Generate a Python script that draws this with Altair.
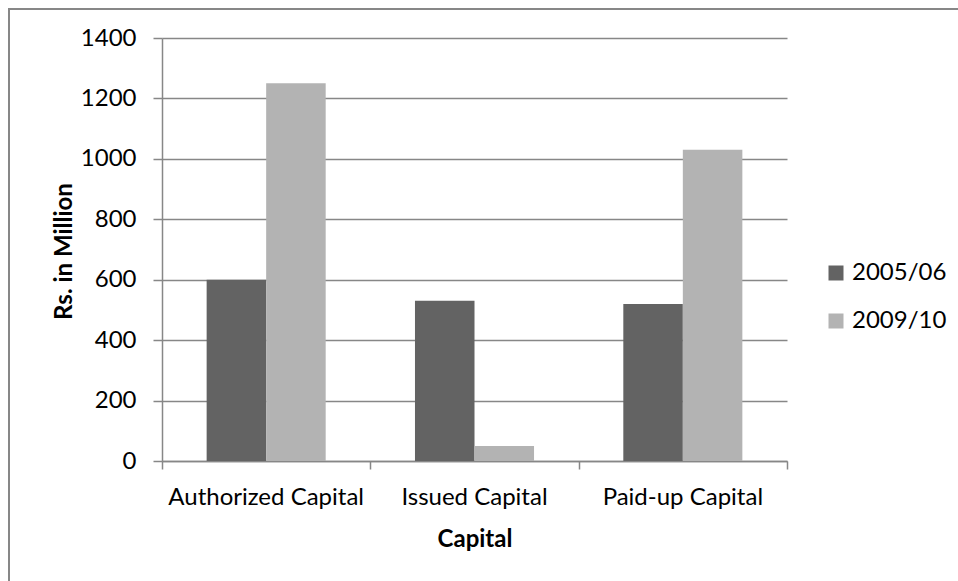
import altair as alt
import pandas as pd

# Share capital by type, Rs. in Million
categories = ["Authorized Capital", "Issued Capital", "Paid-up Capital"]
years = ["2005/06", "2009/10"]
values_2005 = [600, 530, 520]
values_2010 = [1250, 50, 1030]
y_ticks = [0, 200, 400, 600, 800, 1000, 1200, 1400]

rows = []
for cat, a, b in zip(categories, values_2005, values_2010):
    rows.append({"Category": cat, "Year": years[0], "Value": a})
    rows.append({"Category": cat, "Year": years[1], "Value": b})
df = pd.DataFrame(rows)

FONT = "Lato"
GRAY = "#878787"
W, H = 625, 423

bars = alt.Chart(df).mark_bar().encode(
    x=alt.X(
        "Category:N",
        sort=categories,
        scale=alt.Scale(paddingInner=0, paddingOuter=0),
        axis=alt.Axis(
            orient="bottom",
            title="Capital",
            ticks=False,
            domain=True,
            domainColor=GRAY,
            domainWidth=1.5,
            labelAngle=0,
            labelPadding=24,
            labelFontSize=24,
            labelColor="black",
            labelLimit=0,
            titleFontSize=24,
            titleFontWeight="bold",
            titleColor="black",
            titleY=66,
            grid=False,
        ),
    ),
    xOffset=alt.XOffset(
        "Year:N", sort=years, scale=alt.Scale(paddingInner=0, paddingOuter=0.75)
    ),
    y=alt.Y(
        "Value:Q",
        scale=alt.Scale(domain=[0, 1400], nice=False),
        axis=alt.Axis(
            values=y_ticks,
            format="d",
            title="Rs. in Million",
            titleFontSize=24,
            titleFontWeight="bold",
            titleColor="black",
            titleX=-86,
            titleY=213,
            labelFontSize=24,
            labelColor="black",
            labelPadding=17,
            tickSize=9,
            tickColor=GRAY,
            tickWidth=1.5,
            domainColor=GRAY,
            domainWidth=1.5,
            grid=True,
            gridColor=GRAY,
            gridWidth=1.5,
        ),
    ),
    color=alt.Color(
        "Year:N",
        sort=years,
        scale=alt.Scale(domain=years, range=["#636363", "#b3b3b3"]),
        legend=alt.Legend(
            title=None,
            orient="none",
            legendX=662,
            legendY=223,
            symbolType="square",
            symbolSize=225,
            symbolStrokeWidth=0,
            labelFontSize=24,
            labelColor="black",
            labelOffset=4,
            rowPadding=24,
            padding=0,
        ),
    ),
)

# Category boundary ticks along the bottom axis
boundaries = list(range(len(categories) + 1))
ticks = alt.Chart(alt.Data(values=[{"p": b} for b in boundaries])).mark_point(
    opacity=0
).encode(
    x=alt.X(
        "p:Q",
        scale=alt.Scale(domain=[0, len(categories)], nice=False, zero=False),
        axis=alt.Axis(
            orient="bottom",
            values=boundaries,
            labels=False,
            domain=False,
            grid=False,
            title=None,
            tickSize=8,
            tickColor=GRAY,
            tickWidth=1.5,
        ),
    )
)

# Outer frame lines of the chart area
frame_v = alt.Chart(alt.Data(values=[{}])).mark_rule(color=GRAY, strokeWidth=2).encode(
    x=alt.value(-153), y=alt.value(-30), y2=alt.value(H + 200)
)
frame_h = alt.Chart(alt.Data(values=[{}])).mark_rule(color=GRAY, strokeWidth=2).encode(
    x=alt.value(-154), x2=alt.value(W + 300), y=alt.value(-29)
)

chart = (
    alt.layer(bars, ticks, frame_v, frame_h)
    .resolve_scale(x="independent")
    .resolve_axis(x="independent")
    .properties(
        width=W,
        height=H,
        autosize=alt.AutoSizeParams(type="none"),
        padding={"left": 162, "top": 38, "right": 171, "bottom": 120},
        background="white",
    )
    .configure(font=FONT)
    .configure_view(stroke=None)
)

chart.save("out.html", embed_options={"renderer": "svg", "actions": False})
